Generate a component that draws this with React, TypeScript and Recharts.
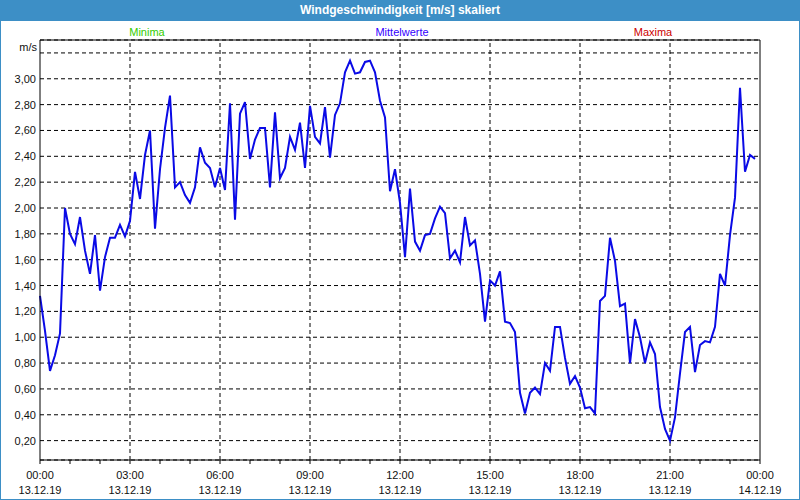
import { LineChart, Line, XAxis, YAxis, CartesianGrid, ReferenceLine } from "recharts";

// 10-minute means, 13.12.19 00:00 .. 23:50
const windValues = [
  1.32, 1.05, 0.74, 0.86, 1.03, 2.0, 1.8, 1.72, 1.93, 1.67, 1.49, 1.79,
  1.36, 1.62, 1.77, 1.77, 1.87, 1.78, 1.9, 2.28, 2.07, 2.41, 2.6, 1.84,
  2.3, 2.62, 2.87, 2.16, 2.2, 2.1, 2.04, 2.16, 2.47, 2.35, 2.31, 2.16,
  2.31, 2.14, 2.81, 1.91, 2.73, 2.82, 2.38, 2.53, 2.62, 2.62, 2.16, 2.74,
  2.23, 2.31, 2.55, 2.45, 2.66, 2.31, 2.79, 2.55, 2.5, 2.78, 2.39, 2.72,
  2.81, 3.05, 3.14, 3.04, 3.05, 3.13, 3.14, 3.05, 2.83, 2.7, 2.13, 2.3,
  2.04, 1.62, 2.15, 1.74, 1.67, 1.79, 1.8, 1.92, 2.01, 1.96, 1.61, 1.67,
  1.58, 1.93, 1.71, 1.75, 1.49, 1.12, 1.44, 1.4, 1.51, 1.12, 1.11, 1.04,
  0.57, 0.41, 0.57, 0.61, 0.56, 0.8, 0.74, 1.08, 1.08, 0.84, 0.64, 0.7,
  0.61, 0.45, 0.46, 0.41, 1.28, 1.32, 1.77, 1.59, 1.24, 1.26, 0.8, 1.14,
  1.0, 0.8, 0.96, 0.87, 0.46, 0.29, 0.2, 0.38, 0.72, 1.04, 1.08, 0.73,
  0.94, 0.97, 0.96, 1.08, 1.49, 1.4, 1.79, 2.08, 2.93, 2.28, 2.41, 2.38,
];
const stepMinutes = 10;

const hourTicks = [
  0, 60, 120, 180, 240, 300, 360, 420, 480, 540, 600, 660, 720, 780, 840, 900,
  960, 1020, 1080, 1140, 1200, 1260, 1320, 1380, 1440,
];
const majorTicks = [180, 360, 540, 720, 900, 1080, 1260];
const timeLabels: Record<number, string> = {
  0: "00:00", 180: "03:00", 360: "06:00", 540: "09:00", 720: "12:00",
  900: "15:00", 1080: "18:00", 1260: "21:00", 1440: "00:00",
};
const dateLabels: Record<number, string> = {
  0: "13.12.19", 180: "13.12.19", 360: "13.12.19", 540: "13.12.19", 720: "13.12.19",
  900: "13.12.19", 1080: "13.12.19", 1260: "13.12.19", 1440: "14.12.19",
};
const yTicks = [0.2, 0.4, 0.6, 0.8, 1.0, 1.2, 1.4, 1.6, 1.8, 2.0, 2.2, 2.4, 2.6, 2.8, 3.0, 3.2];

const data = windValues.map((v, i) => ({ t: i * stepMinutes, v }));

const FONT = "'Liberation Sans', Arial, sans-serif";
const FRAME = "#3d8fc6";

function XTick(props: any) {
  const { x, payload } = props;
  const v = payload.value;
  if (timeLabels[v] === undefined) return null;
  return (
    <g>
      <text x={x} y={479} textAnchor="middle" fontSize={11} fill="#111" fontFamily={FONT}>
        {timeLabels[v]}
      </text>
      <text x={x} y={494} textAnchor="middle" fontSize={11} fill="#111" fontFamily={FONT}>
        {dateLabels[v]}
      </text>
    </g>
  );
}

function YTick(props: any) {
  const { y, payload } = props;
  const v = payload.value as number;
  if (v > 3.1) return null;
  return (
    <text x={36} y={y + 4} textAnchor="end" fontSize={11} fill="#111" fontFamily={FONT}>
      {v.toFixed(2).replace(".", ",")}
    </text>
  );
}

const legendItems = [
  { label: "Minima", color: "#33cc00", cx: 146 },
  { label: "Mittelwerte", color: "#3300ff", cx: 401 },
  { label: "Maxima", color: "#cc0000", cx: 652 },
];

export default function App() {
  return (
    <div
      style={{
        position: "absolute",
        left: 0,
        top: 0,
        width: 800,
        height: 500,
        boxSizing: "border-box",
        border: `1px solid ${FRAME}`,
        background: "#fff",
        fontFamily: FONT,
        overflow: "hidden",
      }}
    >
      <div
        style={{
          position: "absolute",
          left: 0,
          top: -1,
          width: 798,
          height: 21,
          background: FRAME,
          color: "#fff",
          fontWeight: "bold",
          fontSize: 12,
          lineHeight: "21px",
          textAlign: "center",
        }}
      >
        Windgeschwindigkeit [m/s] skaliert
      </div>
      {legendItems.map((l) => (
        <div
          key={l.label}
          style={{
            position: "absolute",
            left: l.cx - 60,
            width: 120,
            top: 24,
            fontSize: 11,
            lineHeight: "14px",
            textAlign: "center",
            color: l.color,
          }}
        >
          {l.label}
        </div>
      ))}
      <div
        style={{
          position: "absolute",
          left: 0,
          width: 36,
          top: 39,
          fontSize: 11,
          lineHeight: "14px",
          textAlign: "right",
          color: "#111",
        }}
      >
        m/s
      </div>
      <div style={{ position: "absolute", left: -1, top: -1 }}>
        <LineChart width={800} height={500} data={data} margin={{ top: 40, right: 40, bottom: 0, left: 0 }}>
          <CartesianGrid
            vertical={false}
            stroke="#000"
            strokeDasharray="4 3"
          />
          {majorTicks.map((m) => (
            <ReferenceLine key={m} x={m} stroke="#000" strokeDasharray="4 3" />
          ))}
          <ReferenceLine y={3.3} stroke="#000" />
          <ReferenceLine x={1440} stroke="#000" />
          <XAxis
            dataKey="t"
            type="number"
            domain={[0, 1440]}
            ticks={hourTicks}
            interval={0}
            height={40}
            stroke="#000"
            tickSize={4}
            tick={<XTick />}
          />
          <YAxis
            type="number"
            domain={[0.05, 3.3]}
            ticks={yTicks}
            interval={0}
            width={40}
            stroke="#000"
            tickLine={false}
            tick={<YTick />}
            allowDataOverflow
          />
          <Line
            type="linear"
            dataKey="v"
            stroke="#0a0ae6"
            strokeWidth={2}
            dot={false}
            isAnimationActive={false}
          />
        </LineChart>
      </div>
    </div>
  );
}
